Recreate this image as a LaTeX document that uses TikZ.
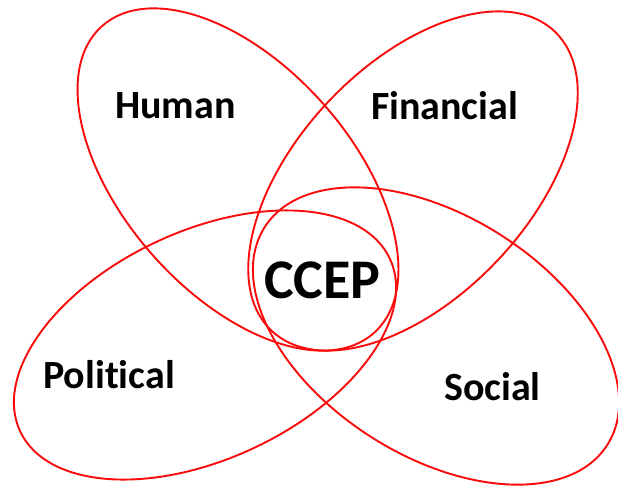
\documentclass[tikz,border=0pt]{standalone}
\usepackage{fontspec}
\setmainfont{Carlito}[Ligatures={NoCommon}]
\begin{document}
\begin{tikzpicture}[x=1pt,y=-1pt,
  petal/.style={draw={rgb,255:red,250;green,10;blue,10}, line width=1.9pt},
  lbl/.style={font=\bfseries\fontsize{40}{48}\selectfont, text=black, inner sep=0pt, anchor=base},
  big/.style={font=\bfseries\fontsize{56}{64}\selectfont, text=black, inner sep=0pt, anchor=base}]
\useasboundingbox (0,0) rectangle (618,485);
% four overlapping ellipses
\draw[petal, shift={(238,179.5)}, rotate=-48.5] (0,0) ellipse [x radius=205, y radius=114];
\draw[petal, shift={(413,181)}, rotate=46.6] (0,0) ellipse [x radius=206, y radius=116];
\draw[petal, shift={(205,345)}, rotate=25] (0,0) ellipse [x radius=204, y radius=114];
\draw[petal, shift={(436,336)}, rotate=-32.4] (0,0) ellipse [x radius=203, y radius=120];
% labels
\node[lbl] (human) at (175.5,118.3) {Human};
\node[lbl] (financial) at (444.5,119) {Financial};
\node[lbl] (political) at (109,388.7) {Political};
\node[lbl] (social) at (492.5,400.3) {Social};
\node[big] (ccep) at (322.5,298.3) {CCEP};
\end{tikzpicture}
\end{document}
